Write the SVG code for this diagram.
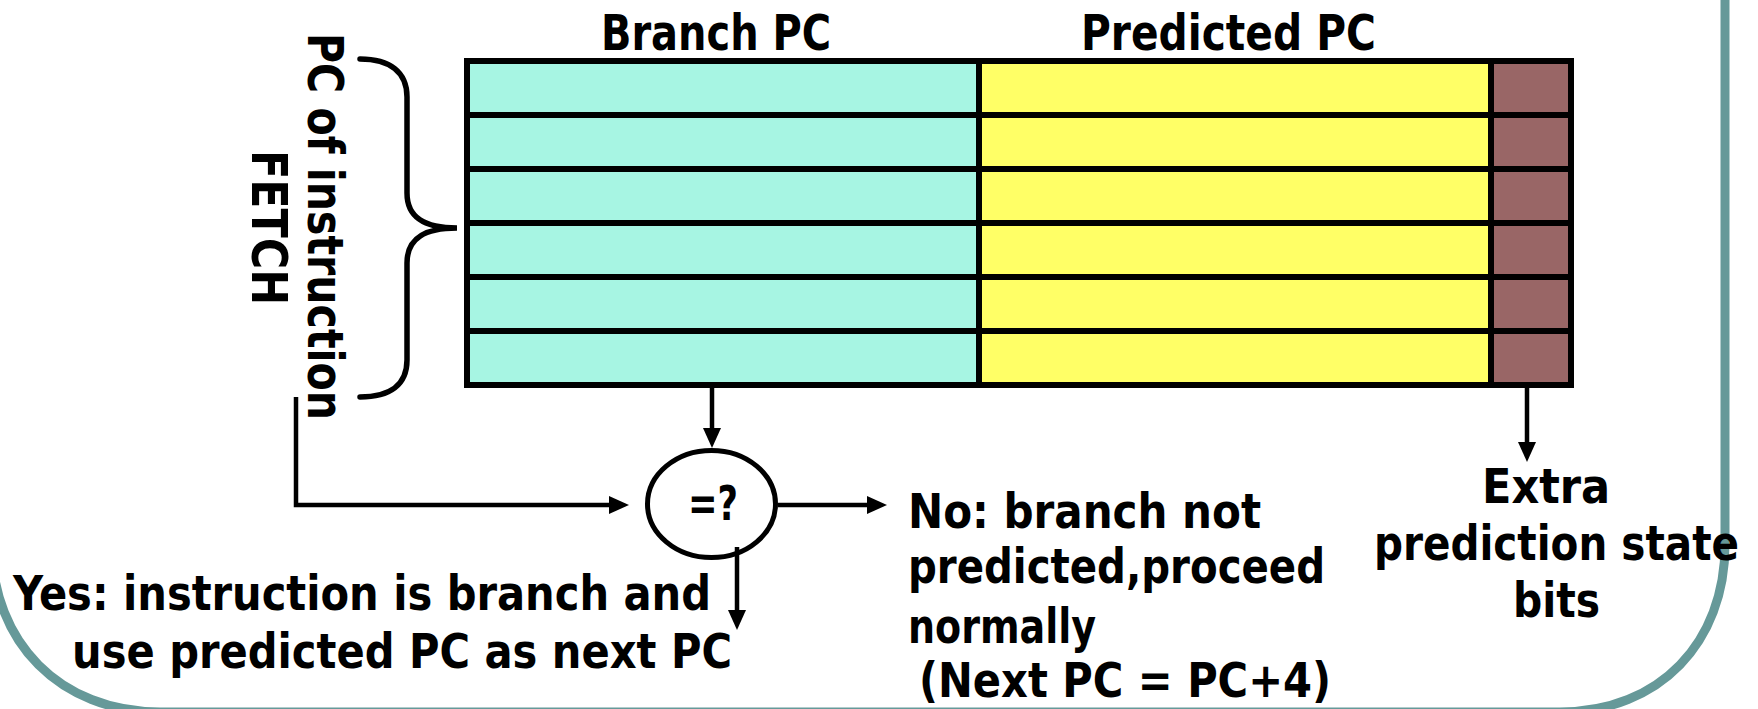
<svg xmlns="http://www.w3.org/2000/svg" width="1758" height="709" viewBox="0 0 1758 709">
  <style>
    .lbl { font-family: "DejaVu Sans Condensed", "Liberation Sans Narrow", "DejaVu Sans", "Liberation Sans", sans-serif; font-weight: bold; font-size: 48px; fill: #000; }
    .big { font-size: 50px; }
    .grid { stroke: #000; stroke-width: 6; fill: none; }
    .wire { stroke: #000; stroke-width: 4.5; fill: none; }
    .frame { stroke: #669999; stroke-width: 9; fill: none; }
  </style>
  <defs>
    <marker id="head" markerUnits="userSpaceOnUse" markerWidth="20" markerHeight="20" viewBox="0 0 20 20" refX="11" refY="10" orient="auto">
      <path d="M0,1 L20,10 L0,19 z" fill="#000"/>
    </marker>
  </defs>

  <rect width="1758" height="709" fill="#fff"/>

  <!-- slide frame, rounded lower corners -->
  <path class="frame" d="M1725,-10 V545 C1725,642 1660,712 1560,712 H160 C60,712 -8,642 -8,545 V-10"/>

  <!-- branch target buffer table -->
  <g id="btb">
    <rect x="467" y="61" width="512" height="324" fill="#a7f5e3"/>
    <rect x="979" y="61" width="512" height="324" fill="#ffff66"/>
    <rect x="1491" y="61" width="80" height="324" fill="#996666"/>
    <path class="grid" d="M467,115 H1571 M467,169 H1571 M467,223 H1571 M467,277 H1571 M467,331 H1571 M979,61 V385 M1491,61 V385"/>
    <rect class="grid" x="467" y="61" width="1104" height="324"/>
  </g>

  <g id="col-branch-pc">
    <text class="lbl big" x="601" y="50" textLength="230" lengthAdjust="spacingAndGlyphs">Branch PC</text>
  </g>
  <g id="col-predicted-pc">
    <text class="lbl big" x="1081" y="50" textLength="295" lengthAdjust="spacingAndGlyphs">Predicted PC</text>
  </g>

  <!-- fetch PC label with brace -->
  <g id="fetch-pc">
    <path d="M360,59 C390,59 407,72 407,97 V193 C407,218 425,228 457,228 C425,228 407,238 407,263 V360 C407,385 390,397 360,397" stroke="#000" stroke-width="5.5" fill="none" stroke-linecap="round"/>
    <text class="lbl big" transform="translate(308,33) rotate(90)" x="0" y="0" textLength="387" lengthAdjust="spacingAndGlyphs">PC of instruction</text>
    <text class="lbl big" transform="translate(252,150) rotate(90)" x="0" y="0" textLength="155" lengthAdjust="spacingAndGlyphs">FETCH</text>
  </g>

  <!-- comparator -->
  <g id="compare">
    <ellipse cx="711.5" cy="504" rx="64" ry="53.5" fill="#fff" stroke="#000" stroke-width="5"/>
    <text class="lbl" x="688" y="520" font-size="44" textLength="50" lengthAdjust="spacingAndGlyphs">=?</text>
  </g>

  <g id="connectors">
    <path class="wire" d="M296,397 V505 H620" marker-end="url(#head)"/>
    <path class="wire" d="M712,388 V439" marker-end="url(#head)"/>
    <path class="wire" d="M778,505 H878" marker-end="url(#head)"/>
    <path class="wire" d="M737,547 V621" marker-end="url(#head)"/>
    <path class="wire" d="M1527,388 V453" marker-end="url(#head)"/>
  </g>

  <g id="hit">
    <text class="lbl" x="13" y="610" textLength="698" lengthAdjust="spacingAndGlyphs">Yes: instruction is branch and</text>
    <text class="lbl" x="72" y="668" textLength="660" lengthAdjust="spacingAndGlyphs">use predicted PC as next PC</text>
  </g>

  <g id="miss">
    <text class="lbl" x="908" y="528" textLength="353" lengthAdjust="spacingAndGlyphs">No: branch not</text>
    <text class="lbl" x="908" y="583" textLength="417" lengthAdjust="spacingAndGlyphs">predicted,proceed</text>
    <text class="lbl" x="908" y="643" textLength="188" lengthAdjust="spacingAndGlyphs">normally</text>
    <text class="lbl" x="919" y="697" textLength="412" lengthAdjust="spacingAndGlyphs">(Next PC = PC+4)</text>
  </g>

  <g id="state-bits">
    <text class="lbl" x="1482" y="503" textLength="128" lengthAdjust="spacingAndGlyphs">Extra</text>
    <text class="lbl" x="1374" y="560" textLength="365" lengthAdjust="spacingAndGlyphs">prediction state</text>
    <text class="lbl" x="1513" y="617" textLength="87" lengthAdjust="spacingAndGlyphs">bits</text>
  </g>
</svg>
